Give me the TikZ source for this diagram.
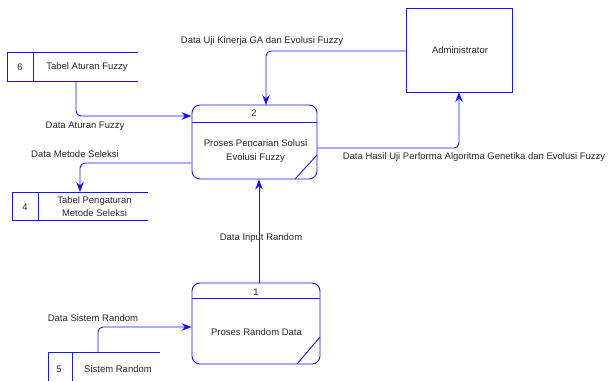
\documentclass[tikz,border=0pt]{standalone}
\usepackage{fontspec}
\setmainfont{Liberation Sans}
\usetikzlibrary{arrows.meta}
\definecolor{dfdblue}{RGB}{20,20,255}
\tikzset{
  every node/.style={font=\fontsize{9.5}{13.5}\selectfont, text=black!85, inner sep=0pt},
  lbl/.style={align=center},
  procbox/.style={draw=dfdblue, line width=0.9pt, rounded corners=8pt, minimum width=#1},
  entbox/.style={draw=dfdblue, line width=0.9pt},
  storeline/.style={draw=dfdblue, line width=0.9pt},
  flow/.style={draw=dfdblue, line width=0.9pt, rounded corners=5pt, -{Stealth[length=10pt,width=7.5pt]}}
}
\begin{document}
\begin{tikzpicture}[x=1pt,y=-1pt]
\useasboundingbox (0,0) rectangle (609,381);
% Administrator
\node[entbox, minimum width=106pt, minimum height=84pt] (adm) at (459,50) {};
\node (admt) at (460,50) {Administrator};
% Process 2
\node[procbox=125pt, minimum height=74pt] (p2) at (254.5,142) {};
\draw[storeline] (p2.west |- 0,122) -- (p2.east |- 0,122);
\draw[storeline] (295,179) -- (317,155);
\node (p2n) at (254,113) {2};
\node[lbl] (p2t) at (255.5,151) {Proses Pencarian Solusi\\Evolusi Fuzzy};
% Process 1
\node[procbox=128pt, minimum height=81pt] (p1) at (256,323.5) {};
\draw[storeline] (p1.west |- 0,298) -- (p1.east |- 0,298);
\draw[storeline] (297,364) -- (320,337);
\node (p1n) at (256,292) {1};
\node (p1t) at (256.5,332) {Proses Random Data};
% Store 6
\draw[storeline] (138,52) -- (7,52) -- (7,81) -- (138,81);
\draw[storeline] (33,52) -- (33,81);
\node (s6n) at (20,67) {6};
\node (s6t) at (87,67) {Tabel Aturan Fuzzy};
\coordinate (s6b) at (76,81);
% Store 4
\draw[storeline] (148,192) -- (12,192) -- (12,220) -- (148,220);
\draw[storeline] (38,192) -- (38,220);
\node (s4n) at (25,207) {4};
\node[lbl] (s4t) at (94.5,206.5) {Tabel Pengaturan\\Metode Seleksi};
\coordinate (s4t0) at (80,192);
% Store 5
\draw[storeline] (160,352) -- (48,352) -- (48,381);
\draw[storeline] (72,352) -- (72,381);
\node (s5n) at (59,369) {5};
\node (s5t) at (118,369) {Sistem Random};
\coordinate (s5top) at (98,352);
% Flows
\draw[flow] (adm.west |- 0,51) -| (266,105);
\draw[flow] (p2.east |- 0,148) -| (459,92);
\draw[flow] (s6b) |- (p2.west |- 0,116);
\draw[flow] (p2.west |- 0,163) -| (s4t0);
\draw[flow] (s5top) |- (p1.west |- 0,327);
\draw[flow] (p1.north -| 259,0) -- (p2.south -| 259,0);
% Labels
\node (l1) at (262,41) {Data Uji Kinerja GA dan Evolusi Fuzzy};
\node (l2) at (474,157) {Data Hasil Uji Performa Algoritma Genetika dan Evolusi Fuzzy};
\node (l3) at (85,126) {Data Aturan Fuzzy};
\node (l4) at (75,154) {Data Metode Seleksi};
\node (l5) at (261,238) {Data Input Random};
\node (l6) at (93,318) {Data Sistem Random};
\end{tikzpicture}
\end{document}
